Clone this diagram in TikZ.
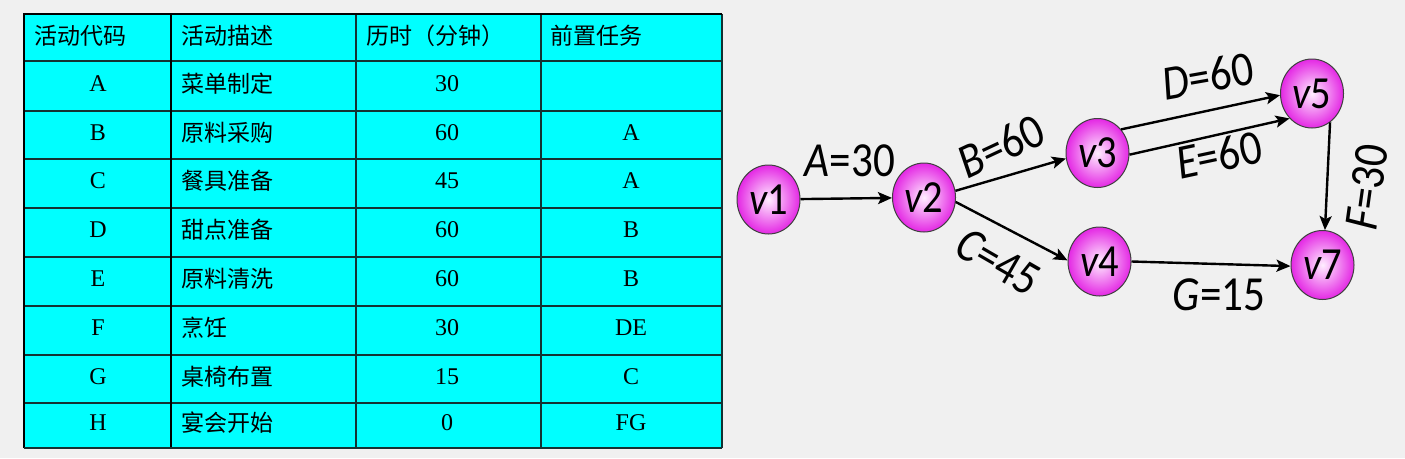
\documentclass[tikz,border=0pt]{standalone}
\usepackage{fontspec}
\setmainfont{Liberation Serif}
\newfontfamily\cjk{Noto Sans CJK SC}
\newfontfamily\lab{Carlito}
\newfontfamily\vlab[FakeStretch=0.88]{Carlito}
\usetikzlibrary{shapes.geometric,arrows.meta}
\definecolor{bg}{RGB}{240,240,240}
\definecolor{tabfill}{RGB}{0,255,255}
\definecolor{tabline}{RGB}{20,50,50}
\definecolor{nodein}{RGB}{255,238,255}
\definecolor{nodeout}{RGB}{228,40,228}
\tikzset{
  hdr/.style={anchor=west, inner sep=0pt, font=\cjk\fontsize{23}{23}\selectfont},
  cjkcell/.style={anchor=west, inner sep=0pt, font=\cjk\fontsize{23}{23}\selectfont},
  latcell/.style={anchor=center, inner sep=0pt, font=\fontsize{24}{24}\selectfont},
  vtx/.style={ellipse, minimum width=63pt, minimum height=69pt, inner sep=0pt,
    draw=black!75, line width=1pt, shading=radial, inner color=nodein, outer color=nodeout,
    font=\vlab\fontsize{46}{46}\selectfont},
  lbl/.style={inner sep=0pt, font=\vlab\fontsize{49}{49}\selectfont},
  edgearrow/.style={line width=2.4pt, -{Stealth[length=14pt,width=12pt,inset=3pt]}},
  thinrule/.style={draw=tabline, line width=1.3pt},
  thickrule/.style={draw=black, line width=2.2pt}
}
\begin{document}
\begin{tikzpicture}[x=1pt,y=-1pt]
\useasboundingbox (0,0) rectangle (1405,458);
\fill[bg] (0,0) rectangle (1405,458);
% table
\fill[tabfill] (24,14) rectangle (722,448);
\foreach \yy in {61,111,159,208,257,306,355,403}
  \draw[thinrule] (24,\yy) -- (722,\yy);
\foreach \xx in {356,541}
  \draw[thinrule] (\xx,14) -- (\xx,448);
\draw[thickrule] (171,14) -- (171,448);
\draw[thinrule] (722,14) -- (722,448);
\draw[thickrule] (24,448) -- (24,14) -- (722,14);
\draw[thinrule] (24,448) -- (722,448);
% header
\node[hdr] (h1) at (34,36) {活动代码};
\node[hdr] (h2) at (181,36) {活动描述};
\node[hdr] (h3) at (366,36) {历时（分钟）};
\node[hdr] (h4) at (550,36) {前置任务};
% rows
\foreach \code/\desc/\dur/\pre/\yy [count=\i] in {
  A/菜单制定/30//83.5,
  B/原料采购/60/A/132.5,
  C/餐具准备/45/A/181,
  D/甜点准备/60/B/230,
  E/原料清洗/60/B/279,
  F/烹饪/30/DE/328,
  G/桌椅布置/15/C/376.5,
  H/宴会开始/0/FG/423}
{
  \node[latcell] (a\i) at (98,\yy) {\code};
  \node[cjkcell] (d\i) at (181,\yy) {\desc};
  \node[latcell] (t\i) at (447,\yy) {\dur};
  \node[latcell] (p\i) at (631,\yy) {\pre};
}
% graph
\node[vtx] (v1) at (768.5,199.5) {\itshape v\upshape 1};
\node[vtx] (v2) at (924,197.5) {\itshape v\upshape 2};
\node[vtx] (v3) at (1097.5,153) {\itshape v\upshape 3};
\node[vtx] (v4) at (1099.5,261.5) {\itshape v\upshape 4};
\node[vtx] (v5) at (1312,93.5) {\itshape v\upshape 5};
\node[vtx] (v7) at (1322.5,265) {\itshape v\upshape 7};
\draw[edgearrow] (v1) -- (v2);
\draw[edgearrow] (v2.12) -- (v3.190);
\draw[edgearrow] (v2.-8) -- (v4.178);
\draw[edgearrow] (v3.45) -- (v5.183);
\draw[edgearrow] (v3.-3) -- (v5.228);
\draw[edgearrow] (v5.-58) -- (v7.86);
\draw[edgearrow] (v4.0) -- (v7.182);
\node[lbl] (lA) at (850,161) {\itshape A\upshape =30};
\node[lbl, rotate=25] (lB) at (1001,146) {\itshape B\upshape =60};
\node[lbl, rotate=-30] (lC) at (998,262) {\itshape C\upshape =45};
\node[lbl, rotate=10] (lD) at (1208,76) {\itshape D\upshape =60};
\node[lbl, rotate=12] (lE) at (1219,155) {\itshape E\upshape =60};
\node[lbl, rotate=82] (lF) at (1367,187) {\itshape F\upshape =30};
\node[lbl] (lG) at (1219,295) {\itshape G\upshape =15};
\end{tikzpicture}
\end{document}
